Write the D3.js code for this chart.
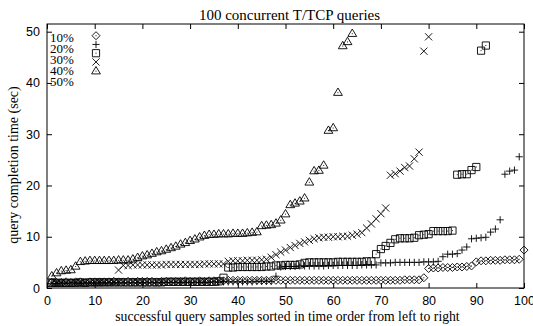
<!DOCTYPE html>
<html>
<head>
<meta charset="utf-8">
<script src="https://cdn.jsdelivr.net/npm/d3@7"></script>
<style>
  body { margin: 0; background: #fff; }
  svg { display: block; font-family: "Liberation Serif", "Times New Roman", serif; }
  .tick text { font-size: 12.5px; fill: #000; }
</style>
</head>
<body>
<div id="chart"></div>
<script>
// query completion time (sec) per successful sample, sorted in time order
const loss10 = [1.1,1.1,1.1,1.2,1.1,1.2,1.2,1.1,1.2,1.2, 1.2,1.2,1.2,1.3,1.2,1.2,1.3,1.2,1.3,1.3,
  1.3,1.3,1.2,1.3,1.3,1.3,1.3,1.3,1.4,1.3, 1.3,1.4,1.3,1.4,1.4,1.4,
  1.4,1.5,1.5,1.5,1.5,1.5,1.5,1.5,1.5,1.5, 1.5,1.5,1.5,1.5,1.5,1.5,1.5,1.5,1.5,1.5,
  1.5,1.5,1.5,1.5,1.5,1.5,1.5,1.5,1.5,1.5, 1.5,1.5,1.5,1.5,1.5,1.5,1.5,1.5,1.6,1.6, 1.6,1.6,
  2.0,
  3.8,3.9,3.9,4.0,4.0,4.0,4.1,4.1,4.2,4.3,
  5.1,5.3,5.3,5.4,5.4,5.4,5.5,5.5,5.5,5.6,
  7.4];
const loss20 = [0.9,0.9,1.0,0.9,1.0,1.0,0.9,1.0,1.0,1.0, 1.0,1.0,1.0,1.0,1.0,1.0,1.0,1.0,1.0,1.1,
  1.0,1.1,1.0,1.1,1.1,1.1,1.1,1.1,1.1,1.1, 1.1,1.1,1.1,1.1,1.2,1.1,1.2,1.2,1.2,1.2,
  1.2,1.2,1.2,1.3,1.3,1.3,1.3,
  2.3,
  4.1,4.2,4.2,4.2,4.3,4.3,4.3,4.3,4.3,4.3, 4.4,4.4,4.4,4.4,4.4,4.4,4.4,4.5,4.5,4.5,4.5,
  4.9,4.9,4.9,5.0,5.0,5.0,5.0,5.0,5.0,5.1,5.1,5.1,5.2,
  6.1,6.6,6.6,6.7,7.4,8.0,9.6,9.7,9.8,9.9,10.9,11.5,13.3,22.2,22.8,23.0,25.6];
const loss30 = [1.0,1.0,1.0,1.0,1.0,1.0,1.1,1.0,1.1,1.1, 1.1,1.1,1.1,1.1,1.1,1.1,1.1,1.1,1.1,1.1,
  1.1,1.1,1.1,1.1,1.2,1.2,1.2,1.2,1.2,1.2, 1.2,1.2,1.2,1.2,1.2,1.3,2.0,
  4.0,4.0,4.1,4.1,4.1,4.1,4.1,4.1,4.2,4.2,
  4.4,4.4,4.5,4.5,4.5,4.6,
  4.9,5.0,5.0,5.0,5.0,5.0,5.0,5.1,5.1,5.1,5.1,5.1,5.1,5.2,5.2,
  6.6,7.6,8.2,8.8,9.5,9.7,9.7,9.7,9.8,10.3,10.4,10.5,
  11.1,11.1,11.1,11.1,11.2,
  22.1,22.2,22.2,23.0,23.6,46.3,47.3];
const loss40 = [0.9,0.9,0.9,1.0,0.9,1.0,1.0,1.0,1.0,1.0,1.0,1.0,1.1,1.1,
  3.5,
  4.4,4.4,4.5,4.5,4.5,4.5,4.5,4.5,4.5,4.6,4.6,4.6,4.6,4.6,4.6,4.6,4.6,4.7,4.7,4.7,4.7,4.7,
  5.2,5.3,5.3,5.3,5.4,5.4,5.4,5.5,5.6,
  6.0,6.5,7.0,7.4,7.9,8.3,8.7,9.0,9.3,9.6,
  9.8,9.9,9.9,10.0,10.0,10.1,10.1,10.3,10.5,10.8,
  11.7,12.5,13.5,14.5,15.6,22.0,22.3,22.8,23.5,23.8,25.2,26.5,46.2,49.0];
const loss50 = [2.4,3.0,3.4,3.5,3.6,4.3,5.2,
  5.3,5.4,5.4,5.4,5.4,5.4,5.4,5.5,5.5,5.5,
  5.7,6.0,6.3,6.5,6.8,7.1,7.3,7.6,7.9,8.2,8.6,8.9,9.3,9.6,10.0,10.3,
  10.5,10.5,10.6,10.6,10.6,10.7,10.7,10.7,10.8,10.9,11.0,
  12.2,12.3,12.4,12.7,13.3,14.5,16.3,16.6,17.0,17.6,20.7,22.9,23.0,24.0,30.8,31.3,38.2,47.3,48.1,49.7];

const seriesNames = ["10%", "20%", "30%", "40%", "50%"];
const seriesValues = [loss10, loss20, loss30, loss40, loss50];
const xTicks = [0, 10, 20, 30, 40, 50, 60, 70, 80, 90, 100];
const yTicks = [0, 10, 20, 30, 40, 50];

const width = 533, height = 326;
const margin = { top: 24, right: 9, bottom: 38, left: 47 };
const innerW = width - margin.left - margin.right;
const innerH = height - margin.top - margin.bottom;

// gnuplot-like point shapes, drawn as outlines
const r = 3.6;
const shapes = [
  `M0,${-r - 0.4}L${r + 0.4},0L0,${r + 0.4}L${-r - 0.4},0Z M0,-0.5L0,0.5`,
  `M${-r},0L${r},0M0,${-r}L0,${r}`,
  `M${-r},${-r}L${r},${-r}L${r},${r}L${-r},${r}Z M0,-0.5L0,0.5`,
  `M${-r},${-r}L${r},${r}M${-r},${r}L${r},${-r}`,
  `M0,${-r - 0.6}L${r + 0.8},${r - 0.4}L${-r - 0.8},${r - 0.4}Z M0,0L0,1`
];

const svg = d3.select("#chart").append("svg")
  .attr("width", width)
  .attr("height", height);

const g = svg.append("g")
  .attr("transform", `translate(${margin.left},${margin.top})`);

const x = d3.scaleLinear().domain([0, 100]).range([0, innerW]);
const y = d3.scaleLinear().domain([0, 51.5]).range([innerH, 0]);

g.append("g")
  .attr("transform", `translate(0,${innerH})`)
  .call(d3.axisBottom(x).tickValues(xTicks).tickSize(-5).tickSizeOuter(0).tickPadding(8))
  .call(a => a.select(".domain").remove());
g.append("g")
  .call(d3.axisTop(x).tickValues(xTicks).tickSize(-5).tickSizeOuter(0).tickFormat(""))
  .call(a => a.select(".domain").remove());
g.append("g")
  .call(d3.axisLeft(y).tickValues(yTicks).tickSize(-5).tickSizeOuter(0).tickPadding(7))
  .call(a => a.select(".domain").remove());
g.append("g")
  .attr("transform", `translate(${innerW},0)`)
  .call(d3.axisRight(y).tickValues(yTicks).tickSize(-5).tickSizeOuter(0).tickFormat(""))
  .call(a => a.select(".domain").remove());

g.selectAll(".tick line").attr("stroke", "#000");

g.append("rect")
  .attr("width", innerW)
  .attr("height", innerH)
  .attr("fill", "none")
  .attr("stroke", "#000");

seriesValues.forEach((vals, k) => {
  g.append("g").selectAll("path")
    .data(vals)
    .join("path")
    .attr("transform", (d, i) => `translate(${x(i + 1)},${y(d)})`)
    .attr("d", shapes[k])
    .attr("fill", "none")
    .attr("stroke", "#000")
    .attr("stroke-width", 0.9);
});

// key, top left inside the frame
const key = g.append("g");
seriesNames.forEach((name, k) => {
  key.append("text")
    .attr("x", 3)
    .attr("y", 18 + k * 11)
    .attr("font-size", 13)
    .text(name);
  key.append("path")
    .attr("transform", `translate(49,${11.7 + k * 8.75})`)
    .attr("d", shapes[k])
    .attr("fill", "none")
    .attr("stroke", "#000")
    .attr("stroke-width", 0.9);
});

svg.append("text")
  .attr("x", margin.left + innerW / 2 + 4)
  .attr("y", 20)
  .attr("text-anchor", "middle")
  .attr("font-size", 15)
  .text("100 concurrent T/TCP queries");

svg.append("text")
  .attr("x", margin.left + innerW / 2 + 2)
  .attr("y", 321)
  .attr("text-anchor", "middle")
  .attr("font-size", 13.7)
  .text("successful query samples sorted in time order from left to right");

svg.append("text")
  .attr("transform", `translate(18,${margin.top + innerH / 2 + 9}) rotate(-90)`)
  .attr("text-anchor", "middle")
  .attr("font-size", 14)
  .text("query completion time (sec)");
</script>
</body>
</html>
